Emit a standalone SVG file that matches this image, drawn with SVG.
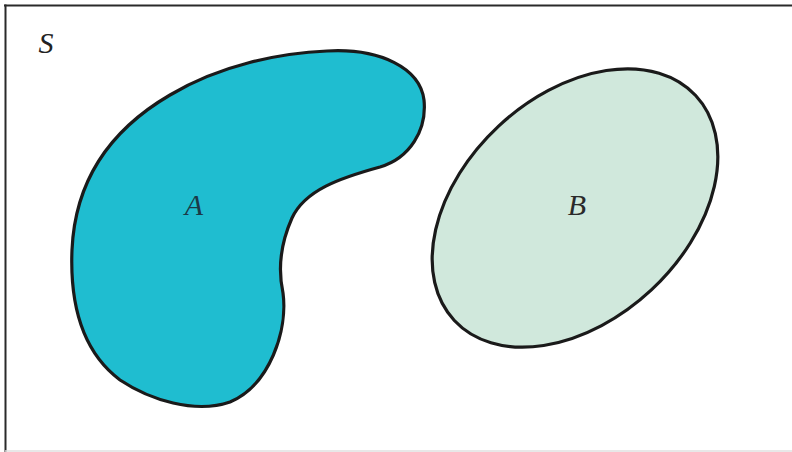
<svg xmlns="http://www.w3.org/2000/svg" width="792" height="452" viewBox="0 0 792 452">
<style>
.lbl{font-family:"Liberation Serif","DejaVu Serif",serif;font-style:italic;font-size:30px;text-anchor:middle}
.shape{stroke:#1a1a1a;stroke-width:3.2;stroke-linejoin:round}
</style>
<rect width="792" height="452" fill="#ffffff"/>
<line x1="4" y1="5.5" x2="792" y2="5.5" stroke="#2a2a2a" stroke-width="2"/>
<line x1="5.5" y1="4.5" x2="5.5" y2="452" stroke="#2a2a2a" stroke-width="2"/>
<line x1="5" y1="451" x2="792" y2="451" stroke="#e0e0e0" stroke-width="1.5"/>
<text class="lbl" x="46" y="53" fill="#222">S</text>
<g id="A">
<path class="shape" fill="#1fbdd0" d="M327,51 C380,48 420,68 424,100 C427,130 410,158 380,167 C340,178 305,190 292,218 C280,245 278,270 283,293 C288,330 270,385 230,402 C195,414 150,400 120,380 C80,350 70,300 72,250 C75,180 110,130 170,95 C220,65 280,53 327,51 Z"/>
<text class="lbl" x="194" y="215" fill="#1b3a48">A</text>
</g>
<g id="B">
<ellipse class="shape" fill="#d0e8dc" cx="575" cy="208" rx="165" ry="112" transform="rotate(-43 575 208)"/>
<text class="lbl" x="577" y="215" fill="#2a2a2a">B</text>
</g>
<g id="connectors"></g>
</svg>
